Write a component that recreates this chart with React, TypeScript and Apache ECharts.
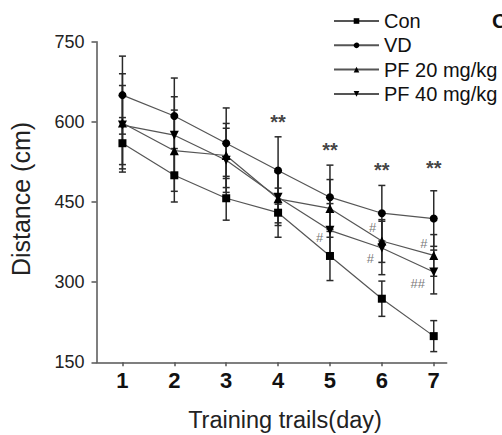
import React, { useEffect, useRef } from "react";
import * as echarts from "echarts";

const days = [1, 2, 3, 4, 5, 6, 7];
const yTicks = [150, 300, 450, 600, 750];

const conMean = [560, 500, 457, 430, 349, 269, 199];
const conErr = [48, 50, 41, 46, 46, 33, 29];
const vdMean = [650, 611, 560, 509, 459, 429, 419];
const vdErr = [73, 71, 66, 63, 60, 52, 52];
const pf20Mean = [598, 546, 537, 456, 438, 377, 350];
const pf20Err = [92, 76, 60, 50, 54, 40, 39];
const pf40Mean = [594, 575, 528, 459, 397, 364, 319];
const pf40Err = [74, 72, 60, 48, 50, 50, 41];

const starX = [4, 5, 6, 7];
const starY = [600, 547, 509, 513];
const hashX = [4.8, 5.82, 5.78, 6.81, 6.69];
const hashY = [384, 403, 344, 373, 297];
const hashText = ["#", "#", "#", "#", "##"];

const FONT = "'Liberation Sans', Arial, sans-serif";

export default function App() {
  const ref = useRef<HTMLDivElement>(null);
  useEffect(() => {
    document.body.style.margin = "0";
    if (!ref.current) return;
    const chart = echarts.init(ref.current, null, { renderer: "svg" });

    const groups = [
      { name: "Con", mean: conMean, err: conErr, symbol: "rect", rotate: 0 },
      { name: "VD", mean: vdMean, err: vdErr, symbol: "circle", rotate: 0 },
      { name: "PF 20 mg/kg", mean: pf20Mean, err: pf20Err, symbol: "triangle", rotate: 0 },
      { name: "PF 40 mg/kg", mean: pf40Mean, err: pf40Err, symbol: "triangle", rotate: 180 },
    ];

    const errorSeries = groups.map((g) => ({
      type: "custom",
      name: g.name + " err",
      z: 1,
      silent: true,
      data: days.map((d, i) => [d, g.mean[i] - g.err[i], g.mean[i] + g.err[i]]),
      renderItem: (params: any, api: any) => {
        const x = api.value(0);
        const lo = api.coord([x, api.value(1)]);
        const hi = api.coord([x, api.value(2)]);
        const cap = 3.5;
        const st = { stroke: "#2a2a2a", lineWidth: 1.5 };
        return {
          type: "group",
          children: [
            { type: "line", shape: { x1: lo[0], y1: lo[1], x2: hi[0], y2: hi[1] }, style: st },
            { type: "line", shape: { x1: lo[0] - cap, y1: lo[1], x2: lo[0] + cap, y2: lo[1] }, style: st },
            { type: "line", shape: { x1: hi[0] - cap, y1: hi[1], x2: hi[0] + cap, y2: hi[1] }, style: st },
          ],
        };
      },
    }));

    const lineSeries = groups.map((g) => ({
      type: "line",
      name: g.name,
      z: 3,
      data: days.map((d, i) => [d, g.mean[i]]),
      symbol: g.symbol,
      symbolRotate: g.rotate,
      symbolSize: g.symbol === "triangle" ? 9 : 8,
      showSymbol: true,
      lineStyle: { color: "#555", width: 1.2 },
      itemStyle: { color: "#000" },
    }));

    const option: any = {
      animation: false,
      textStyle: { fontFamily: FONT },
      grid: { left: 96.5, right: 55.3, top: 41.7, bottom: 72.7, containLabel: false },
      legend: {
        orient: "vertical",
        left: 328,
        top: 6,
        itemWidth: 45,
        itemHeight: 7,
        itemGap: 4.3,
        data: groups.map((g) => g.name),
        textStyle: { fontSize: 20, color: "#111", fontFamily: FONT, lineHeight: 20 },
      },
      xAxis: {
        type: "value",
        min: 0.5,
        max: 7.25,
        splitLine: { show: false },
        axisLine: { show: true, lineStyle: { color: "#555", width: 1.5 } },
        axisTick: { show: true, length: 4, customValues: days, lineStyle: { color: "#555", width: 1.5 } },
        axisLabel: {
          customValues: days,
          fontSize: 22,
          fontWeight: "bold",
          color: "#111",
          margin: 7,
          fontFamily: FONT,
        },
      },
      yAxis: {
        type: "value",
        min: 150,
        max: 750,
        interval: 150,
        splitLine: { show: false },
        axisLine: { show: true, lineStyle: { color: "#555", width: 1.5 } },
        axisTick: { show: true, length: 5, lineStyle: { color: "#555", width: 1.5 } },
        axisLabel: { fontSize: 18, color: "#222", margin: 12, fontFamily: FONT, customValues: yTicks },
      },
      graphic: [
        {
          type: "text",
          x: 21,
          y: 199,
          rotation: Math.PI / 2,
          style: {
            text: "Distance (cm)",
            fontSize: 25,
            fill: "#222",
            fontFamily: FONT,
            align: "center",
            verticalAlign: "middle",
          },
        },
        {
          type: "text",
          x: 285,
          y: 420,
          style: {
            text: "Training trails(day)",
            fontSize: 23.5,
            fill: "#222",
            fontFamily: FONT,
            align: "center",
            verticalAlign: "middle",
          },
        },
        {
          type: "text",
          x: 492,
          y: 20,
          style: {
            text: "C",
            fontSize: 21,
            fontWeight: "bold",
            fill: "#111",
            fontFamily: FONT,
            align: "left",
            verticalAlign: "middle",
          },
        },
      ],
      series: [
        ...errorSeries,
        ...lineSeries,
        {
          type: "scatter",
          name: "stars",
          z: 5,
          silent: true,
          symbolSize: 0,
          data: starX.map((x, i) => [x, starY[i]]),
          label: {
            show: true,
            position: "inside",
            formatter: "**",
            fontSize: 20,
            fontWeight: "bold",
            color: "#111",
            fontFamily: FONT,
          },
        },
        {
          type: "scatter",
          name: "hash",
          z: 5,
          silent: true,
          symbolSize: 0,
          data: hashX.map((x, i) => ({ value: [x, hashY[i]], label: { formatter: hashText[i] } })),
          label: {
            show: true,
            position: "inside",
            fontSize: 13,
            color: "#555",
            fontFamily: FONT,
          },
        },
      ],
    };
    chart.setOption(option);
    return () => chart.dispose();
  }, []);
  return <div ref={ref} style={{ width: 502, height: 435 }} />;
}
